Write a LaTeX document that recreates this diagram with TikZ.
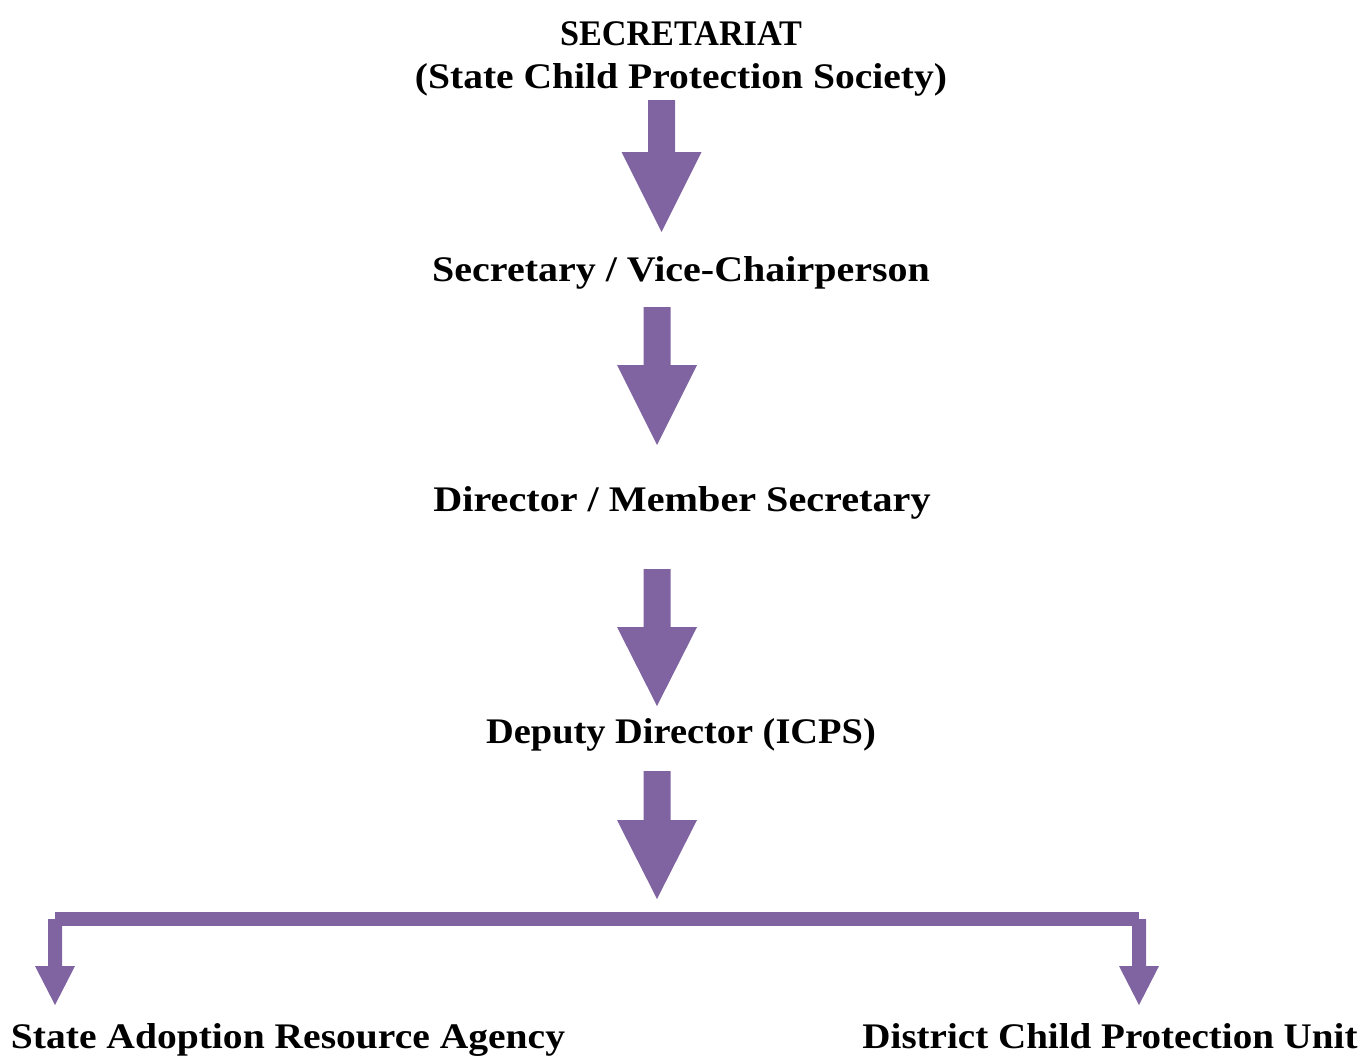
\documentclass[tikz,border=0pt]{standalone}
\usepackage{fontspec}
\setmainfont{Liberation Serif}
\usetikzlibrary{calc}
\definecolor{orgpurple}{HTML}{8064A2}
% block arrow: start, end, shaft half width, head half width, head length
\newcommand\blockarrow[5]{%
  \fill[orgpurple] let \p1=(#1), \p2=(#2) in
    (\x1-#3,\y1) -- (\x1+#3,\y1) -- (\x1+#3,\y2+#5) -- (\x1+#4,\y2+#5)
    -- (\x2,\y2) -- (\x1-#4,\y2+#5) -- (\x1-#3,\y2+#5) -- cycle;}
\begin{document}
\begin{tikzpicture}[x=0.5pt,y=-0.5pt,
  lbl/.style={font=\fontsize{18}{22}\selectfont\bfseries, inner sep=0pt, anchor=base, text=black},
  barline/.style={draw=orgpurple, line width=7pt, line cap=butt}]
\useasboundingbox (0,0) rectangle (1365,1057);
% labels
\node[lbl] (sec1) at (681,45) {\scalebox{0.95}[1]{SECRETARIAT}};
\node[lbl] (sec2) at (681,88) {\scalebox{1.099}[1]{(State Child Protection Society)}};
\node[lbl] (vice) at (681,281) {\scalebox{1.111}[1]{Secretary / Vice-Chairperson}};
\node[lbl] (dir) at (682,511) {\scalebox{1.116}[1]{Director / Member Secretary}};
\node[lbl] (dep) at (681,743) {\scalebox{1.067}[1]{Deputy Director (ICPS)}};
\node[lbl] (sara) at (288,1048) {\scalebox{1.099}[1]{State Adoption Resource Agency}};
\node[lbl] (dcpu) at (1110,1048) {\scalebox{1.085}[1]{District Child Protection Unit}};
% arrow end points
\coordinate (a1s) at (661.5,100); \coordinate (a1e) at (661.5,232);
\coordinate (a2s) at (657,307);   \coordinate (a2e) at (657,445);
\coordinate (a3s) at (657,569);   \coordinate (a3e) at (657,706);
\coordinate (a4s) at (657,771);   \coordinate (a4e) at (657,899);
\coordinate (jl) at (55,919);     \coordinate (jr) at (1139,919);
\coordinate (bl) at (55,1005);    \coordinate (br) at (1139,1005);
% connectors
\blockarrow{a1s}{a1e}{6.75pt}{20pt}{40pt}
\blockarrow{a2s}{a2e}{6.75pt}{20pt}{40pt}
\blockarrow{a3s}{a3e}{6.75pt}{20pt}{39.5pt}
\blockarrow{a4s}{a4e}{6.75pt}{20pt}{39.5pt}
\draw[barline] (jl) -- (jr);
\blockarrow{jl}{bl}{3.5pt}{10pt}{19.5pt}
\blockarrow{jr}{br}{3.5pt}{10pt}{19.5pt}
\end{tikzpicture}
\end{document}
